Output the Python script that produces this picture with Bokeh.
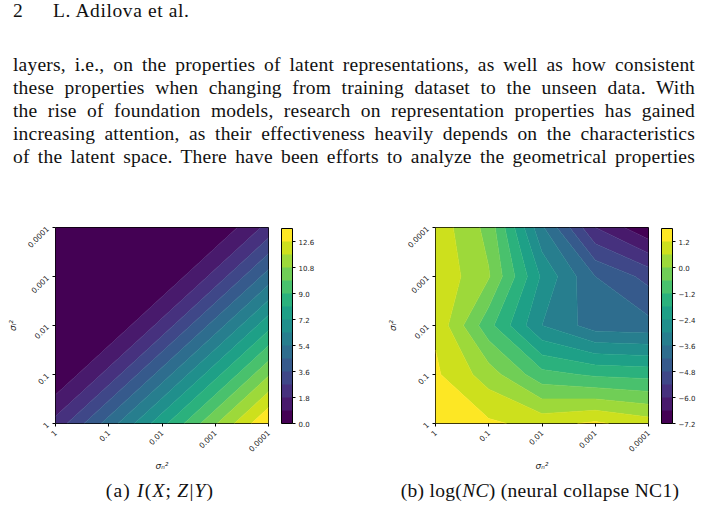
import math
import numpy as np
from bokeh.plotting import figure
from bokeh.layouts import column, row
from bokeh.models import (Div, ColorBar, LinearColorMapper, FixedTicker, Range1d,
                          CustomJSTickFormatter)
from bokeh.palettes import viridis
from bokeh.embed import file_html
from bokeh.resources import INLINE

# ---------------- data ----------------
sigma_values = [1, 0.1, 0.01, 0.001, 0.0001]          # grid of both sigma_n^2 (x) and sigma_l^2 (y)
tick_labels = ["1", "0.1", "0.01", "0.001", "0.0001"]

# rows: sigma_l^2 = 1 ... 0.0001 (bottom -> top); cols: sigma_n^2 = 1 ... 0.0001 (left -> right)
mi_values = [
    [2.1, 4.9, 7.8, 10.7, 13.5],
    [0.05, 2.1, 4.9, 7.8, 10.7],
    [0.05, 0.05, 2.1, 4.9, 7.8],
    [0.05, 0.05, 0.05, 2.1, 4.9],
    [0.05, 0.05, 0.05, 0.05, 2.1],
]
nc_values = [
    [1.6, 1.3, 1.0, 1.3, 0.9],
    [1.3, 0.3, -1.0, -1.3, -1.4],
    [1.1, -1.0, -3.0, -3.9, -4.0],
    [1.1, 0.05, -2.5, -4.2, -5.0],
    [1.0, -0.2, -3.5, -6.0, -7.1],
]
mi_levels = [0.0, 0.9, 1.8, 2.7, 3.6, 4.5, 5.4, 6.3, 7.2, 8.1, 9.0, 9.9, 10.8, 11.7, 12.6, 13.5]
mi_ticks = [0.0, 1.8, 3.6, 5.4, 7.2, 9.0, 10.8, 12.6]
nc_levels = [-7.2, -6.6, -6.0, -5.4, -4.8, -4.2, -3.6, -3.0, -2.4, -1.8, -1.2, -0.6, 0.0, 0.6, 1.2, 1.8]
nc_ticks = [-7.2, -6.0, -4.8, -3.6, -2.4, -1.2, 0.0, 1.2]

header_num = "2"
header_authors = "L. Adilova et al."
paragraph_lines = [
    "layers, i.e., on the properties of latent representations, as well as how consistent",
    "these properties when changing from training dataset to the unseen data. With",
    "the rise of foundation models, research on representation properties has gained",
    "increasing attention, as their effectiveness heavily depends on the characteristics",
    "of the latent space. There have been efforts to analyze the geometrical properties",
]
caption_a = "(a) <i>I</i>(<i>X</i>;&thinsp;<i>Z</i>|<i>Y</i>)"
caption_b = "(b) log(<i>NC</i>) (neural collapse NC1)"
x_label = "σₙ²"
y_label = "σₗ²"

# log-decade positions of the grid
pos = [-math.log10(s) for s in sigma_values]

SERIF = "'Liberation Serif', 'Times New Roman', serif"


def make_panel(z, levels, ticks, frame_left, frame_top, frame_h, right_border):
    n_bands = len(levels) - 1
    pal = viridis(n_bands)
    line_cols = [pal[min(k, n_bands - 1)] for k in range(len(levels))]
    fig_h = 260
    p = figure(width=352, height=fig_h, output_backend="svg", toolbar_location=None,
               x_range=Range1d(pos[0], pos[-1]), y_range=Range1d(pos[0], pos[-1]),
               min_border_left=frame_left, min_border_right=right_border,
               min_border_top=frame_top, min_border_bottom=fig_h - frame_top - frame_h,
               background_fill_color="white", border_fill_color="white")
    p.contour(x=pos, y=pos, z=np.array(z), levels=levels, fill_color=pal,
              line_color=line_cols, line_width=0.7)
    p.grid.visible = False
    p.outline_line_color = "black"
    p.outline_line_width = 1
    for ax in (p.xaxis[0], p.yaxis[0]):
        ax.ticker = FixedTicker(ticks=pos)
        ax.major_label_overrides = {i: lab for i, lab in enumerate(tick_labels)}
        ax.major_label_orientation = math.pi / 4
        ax.major_label_text_font = "DejaVu Sans"
        ax.major_label_text_font_size = "7.5px"
        ax.major_label_text_color = "#222222"
        ax.major_tick_in = 0
        ax.major_tick_out = 3
        ax.minor_tick_line_color = None
        ax.axis_line_color = None
        ax.major_tick_line_color = "black"
        ax.axis_label_text_font = "DejaVu Sans"
        ax.axis_label_text_font_size = "9px"
        ax.axis_label_text_font_style = "italic"
        ax.axis_label_text_color = "#222222"
    p.xaxis.axis_label = x_label
    p.yaxis.axis_label = y_label
    p.xaxis.axis_label_standoff = 4
    p.yaxis.axis_label_standoff = 4

    mapper = LinearColorMapper(palette=pal, low=levels[0], high=levels[-1])
    cb = ColorBar(color_mapper=mapper, ticker=FixedTicker(ticks=ticks),
                  formatter=CustomJSTickFormatter(code="return tick.toFixed(1).replace('-', '\u2212');"),
                  width=11, height=195, location=(13, 0), margin=0, padding=0,
                  major_tick_in=0, major_tick_out=3, major_tick_line_color="black",
                  minor_tick_line_color=None, bar_line_color="black",
                  major_label_text_font="DejaVu Sans", major_label_text_font_size="7px",
                  major_label_text_color="#222222", label_standoff=3,
                  background_fill_color=None, border_line_color=None)
    p.add_layout(cb, "right")
    return p


fig_a = make_panel(mi_values, mi_levels, mi_ticks, 55, 10, 198, 84)
fig_b = make_panel(nc_values, nc_levels, nc_ticks, 83, 12, 197, 56)

lines_html = "".join(
    f'<div style="text-align:justify;text-align-last:justify;height:23px;">{ln}</div>'
    for ln in paragraph_lines)
top_html = f"""
<div style="position:relative;width:704px;height:215px;font-family:{SERIF};color:#111;">
  <div style="position:absolute;left:13px;top:0px;font-size:19.5px;line-height:22px;">{header_num}</div>
  <div style="position:absolute;left:53px;top:0px;font-size:19.5px;line-height:22px;letter-spacing:0.6px;">{header_authors}</div>
  <div style="position:absolute;left:13px;top:53px;width:682px;font-size:19.5px;line-height:23px;letter-spacing:0.2px;">{lines_html}</div>
</div>"""
bottom_html = f"""
<div style="position:relative;width:704px;height:36px;font-family:{SERIF};color:#111;font-size:19.5px;line-height:23px;letter-spacing:0.3px;">
  <div style="position:absolute;left:0px;top:4px;width:320px;text-align:center;letter-spacing:1.2px;">{caption_a}</div>
  <div style="position:absolute;left:380px;top:4px;width:320px;text-align:center;">{caption_b}</div>
</div>"""

top_div = Div(text=top_html, width=704, height=215, margin=0)
bottom_div = Div(text=bottom_html, width=704, height=36, margin=0)
plots = row(fig_a, fig_b, spacing=0, margin=0)
page = column(top_div, plots, bottom_div, spacing=0, margin=0)

with open("out.html", "w") as f:
    f.write(file_html(page, INLINE, title="figure"))
